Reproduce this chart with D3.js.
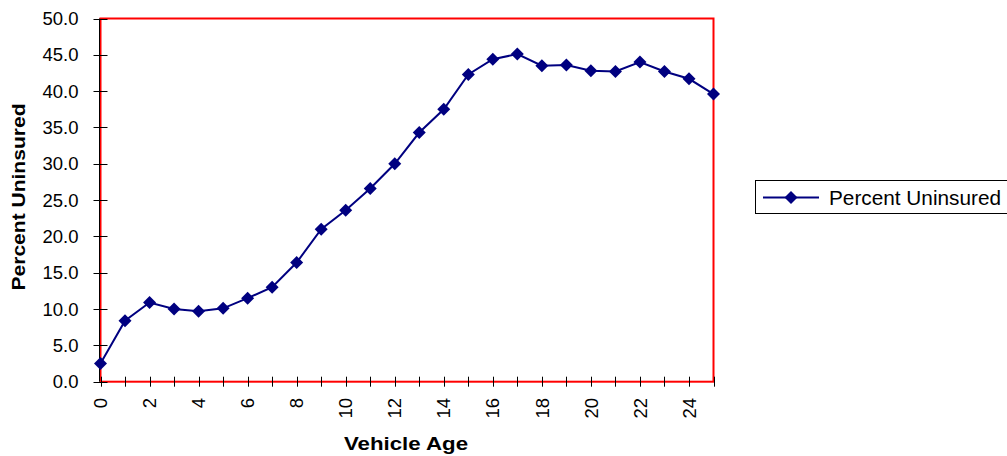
<!DOCTYPE html>
<html><head><meta charset="utf-8">
<script src="https://cdn.jsdelivr.net/npm/d3@7"></script>
<style>body{margin:0;background:#fff;}svg{display:block;font-family:"Liberation Sans",Arial,sans-serif;}</style>
</head><body>
<svg id="chart" width="1007" height="456"></svg>
<script>
const ages = [0,1,2,3,4,5,6,7,8,9,10,11,12,13,14,15,16,17,18,19,20,21,22,23,24,25];
const percentUninsured = [2.5,8.4,10.9,10.0,9.7,10.1,11.5,13.0,16.4,21.0,23.6,26.6,30.0,34.3,37.5,42.3,44.4,45.1,43.5,43.6,42.8,42.7,44.0,42.7,41.7,39.6];
const yTicks = [0,5,10,15,20,25,30,35,40,45,50];
const xTickLabels = [0,2,4,6,8,10,12,14,16,18,20,22,24];
const seriesName = "Percent Uninsured";
const xTitle = "Vehicle Age";
const yTitle = "Percent Uninsured";

const svg = d3.select("#chart");
const x = d3.scaleLinear().domain([0,25]).range([100.5,713.5]);
const y = d3.scaleLinear().domain([0,50]).range([381.7,18.5]);

// plot frame
svg.append("rect").attr("x",x(0)).attr("y",y(50)).attr("width",x(25)-x(0)).attr("height",y(0)-y(50))
  .attr("fill","none").attr("stroke","#ff0000").attr("stroke-width",2);
svg.append("line").attr("x1",x(0)-1).attr("x2",x(0)-1).attr("y1",y(50)).attr("y2",y(0))
  .attr("stroke","#000").attr("stroke-width",1);

// y ticks
const yAxis = svg.append("g");
yAxis.selectAll("line").data(yTicks).join("line")
  .attr("x1",x(0)-7).attr("x2",x(0)+7).attr("y1",d=>Math.round(y(d))+0.5).attr("y2",d=>Math.round(y(d))+0.5)
  .attr("stroke","#000").attr("stroke-width",1);
yAxis.selectAll("text").data(yTicks).join("text")
  .attr("x",78.5).attr("y",d=>y(d)).attr("dy","0.36em").attr("text-anchor","end")
  .attr("font-size",18.5).attr("fill","#000").text(d=>d.toFixed(1));

// x ticks
const xAxis = svg.append("g");
xAxis.selectAll("line").data(ages).join("line")
  .attr("x1",d=>Math.round(x(d))+0.5).attr("x2",d=>Math.round(x(d))+0.5).attr("y1",y(0)-5).attr("y2",y(0)+5)
  .attr("stroke","#000").attr("stroke-width",1);
xAxis.selectAll("text").data(xTickLabels).join("text")
  .attr("transform",d=>`translate(${x(d)},398) rotate(-90)`)
  .attr("dy","0.36em").attr("text-anchor","end")
  .attr("font-size",18.5).attr("fill","#000").text(d=>d);

// titles
svg.append("text").attr("x",406).attr("y",450).attr("text-anchor","middle")
  .attr("font-size",18.5).attr("font-weight","bold").attr("textLength",124).attr("lengthAdjust","spacingAndGlyphs").text(xTitle);
svg.append("text").attr("transform","translate(25,197) rotate(-90)").attr("text-anchor","middle")
  .attr("font-size",19).attr("font-weight","bold").attr("textLength",187).attr("lengthAdjust","spacingAndGlyphs").text(yTitle);

// series
const data = ages.map((a,i)=>({a, v: percentUninsured[i]}));
const line = d3.line().x(d=>x(d.a)).y(d=>y(d.v));
svg.append("path").datum(data).attr("d",line).attr("fill","none").attr("stroke","#000080").attr("stroke-width",2);
const diamond = "M0,-6.5L6.5,0L0,6.5L-6.5,0Z";
svg.append("g").selectAll("path").data(data).join("path")
  .attr("transform",d=>`translate(${x(d.a)},${y(d.v)})`).attr("d",diamond).attr("fill","#000080");

// legend
const lg = svg.append("g");
lg.append("rect").attr("x",755.5).attr("y",180.5).attr("width",260).attr("height",33)
  .attr("fill","#fff").attr("stroke","#000").attr("stroke-width",1);
lg.append("line").attr("x1",763).attr("x2",819).attr("y1",197.5).attr("y2",197.5).attr("stroke","#000080").attr("stroke-width",2);
lg.append("path").attr("transform","translate(791,197.5)").attr("d",diamond).attr("fill","#000080");
lg.append("text").attr("x",829).attr("y",198).attr("dy","0.36em").attr("font-size",19.5)
  .attr("textLength",172).attr("lengthAdjust","spacingAndGlyphs").text(seriesName);
</script>
</body></html>
